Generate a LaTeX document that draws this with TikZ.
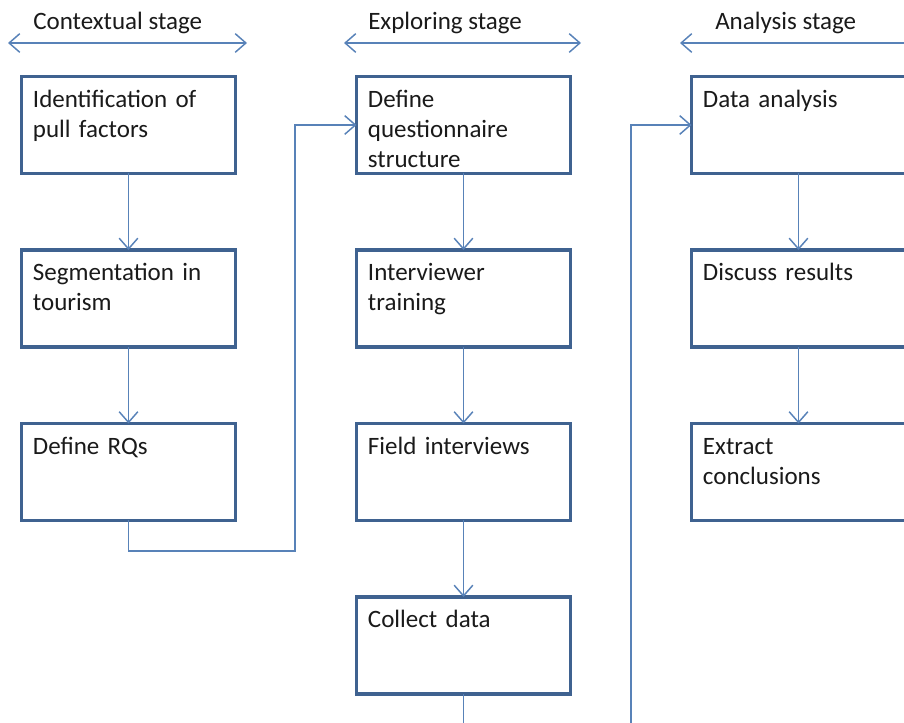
\documentclass[tikz,border=0pt]{standalone}
\usepackage{fontspec}
\setmainfont{Carlito}
\usepackage{xcolor}
\usetikzlibrary{arrows.meta, calc}
\definecolor{boxline}{HTML}{3F6290}
\definecolor{linkline}{HTML}{5882B8}
\definecolor{txt}{HTML}{1A1A1A}
\tikzset{
  stagebox/.style = {rectangle, draw=boxline, line width=2.4pt, fill=white, text=txt,
                     anchor=north west, outer sep=0pt, inner xsep=8.6pt, inner ysep=0pt,
                     text width=143.3pt, text height=22.9pt, text depth=49.85pt,
                     align=left, font=\fontsize{18.75}{22.5}\selectfont},
  stagelbl/.style = {anchor=base west, inner sep=0pt, text=txt,
                     font=\fontsize{18.75}{22.5}\selectfont},
  arrow/.style    = {draw=linkline, line width=1.1pt, -{Straight Barb[length=8pt,width=14pt]}},
  darrow/.style   = {draw=linkline, line width=1.1pt,
                     {Straight Barb[length=8pt,width=14pt]}-{Straight Barb[length=8pt,width=14pt]}},
}

\begin{document}
\begin{tikzpicture}[x=0.75pt, y=-0.75pt]

    \path[use as bounding box, clip] (0,0) rectangle (904,723);

    %% Stage headers
    \node[stagelbl] (hctx) at ( 33, 30) {Contextual stage};
    \node[stagelbl] (hexp) at (368, 30) {Exploring stage};
    \node[stagelbl] (hana) at (715, 30) {Analysis stage};

    \coordinate (ctxL) at (  8, 43);  \coordinate (ctxR) at (247, 43);
    \coordinate (expL) at (344, 43);  \coordinate (expR) at (581, 43);
    \coordinate (anaL) at (680, 43);  \coordinate (anaR) at (918, 43);
    \draw[darrow] (ctxL) -- (ctxR);
    \draw[darrow] (expL) -- (expR);
    \draw[darrow] (anaL) -- (anaR);

    %% Column 1 (contextual)
    \node[stagebox] (ident) at (21.5,  76.5) {Identification of\\pull factors};
    \node[stagebox] (segm)  at (21.5, 250.0) {Segmentation in\\tourism};
    \node[stagebox] (rqs)   at (21.5, 423.5) {Define RQs};

    \draw[arrow] (ident.south) -- (segm.north);
    \draw[arrow] (segm.south)  -- (rqs.north);

    %% Column 2 (exploring)
    \node[stagebox] (quest)   at (356.5,  76.5) {Define\\questionnaire\\structure};
    \node[stagebox] (train)   at (356.5, 250.0) {Interviewer\\training};
    \node[stagebox] (field)   at (356.5, 423.5) {Field interviews};
    \node[stagebox] (collect) at (356.5, 597.0) {Collect data};

    \draw[arrow] (quest.south) -- (train.north);
    \draw[arrow] (train.south) -- (field.north);
    \draw[arrow] (field.south) -- (collect.north);

    %% Column 3 (analysis)
    \node[stagebox] (analysis) at (691.5,  76.5) {Data analysis};
    \node[stagebox] (discuss)  at (691.5, 250.0) {Discuss results};
    \node[stagebox] (extract)  at (691.5, 423.5) {Extract\\conclusions};

    \draw[arrow] (analysis.south) -- (discuss.north);
    \draw[arrow] (discuss.south)  -- (extract.north);

    %% Links between stages
    \coordinate (bendA) at (295, 551);
    \coordinate (bendB) at (631, 745);
    \draw[arrow] (rqs.south) -- (rqs.south |- bendA) -- (bendA) |- (quest.west);
    \draw[arrow] (collect.south) -- (collect.south |- bendB) -- (bendB) |- (analysis.west);

\end{tikzpicture}
\end{document}
